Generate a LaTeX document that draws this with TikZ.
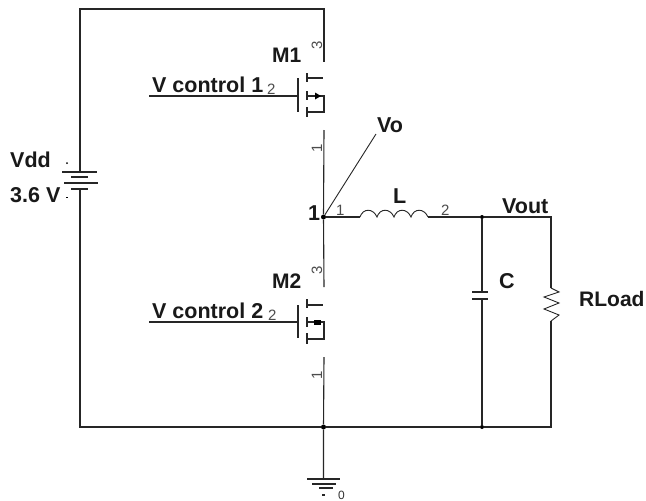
\documentclass[tikz,border=0pt]{standalone}
\usepackage{fontspec}
\setmainfont{Liberation Sans}
\begin{document}
\begin{tikzpicture}[x=1pt,y=-1pt,
  wire/.style={draw=black!85,line width=1.1pt},
  thin wire/.style={draw=black!85,line width=0.9pt},
  junction/.style={circle,fill=black,inner sep=0pt,minimum size=5pt},
  biglabel/.style={font=\fontsize{21.5}{23}\selectfont\bfseries,text=black!90,inner sep=0pt},
  sidelabel/.style={font=\fontsize{21}{23}\selectfont\bfseries,text=black!90,inner sep=0pt},
  pinlabel/.style={font=\fontsize{15}{16}\selectfont,text=black!70,inner sep=0pt},
  tinylabel/.style={font=\fontsize{12}{13}\selectfont,text=black!80,inner sep=0pt}]
\path[use as bounding box,fill=white] (0,0) rectangle (646,501);
% named points
\coordinate (tl) at (80,9);
\coordinate (tr) at (324,9);
\coordinate (batT) at (80,172);
\coordinate (batB) at (80,189);
\coordinate (bl) at (80,427);
\coordinate (br) at (551,427);
\node[junction] (n1) at (323.5,217) {};
\node[junction,minimum size=4pt] (nv) at (482,217) {};
\node[junction] (ng) at (323.5,427) {};
\node[junction,minimum size=4pt] (nc) at (482,427) {};
\coordinate (vr) at (551,217);
\coordinate (m1d) at (324,62);
\coordinate (m1s) at (324,130);
\coordinate (m2d) at (324,287);
\coordinate (m2s) at (324,357);
\coordinate (lA) at (360,217);
\coordinate (lB) at (428,217);
\coordinate (cT) at (482,292);
\coordinate (cB) at (482,299);
\coordinate (rT) at (551,288);
\coordinate (rB) at (551,321);
\coordinate (gnd) at (323.5,479);
\coordinate (vo) at (376,134);
\coordinate (g1) at (149,96);
\coordinate (g1e) at (298,96);
\coordinate (g2) at (149,322);
\coordinate (g2e) at (298,322);
% main wires
\draw[wire] (batT) -- (tl) -- (tr) -- (m1d);
\draw[wire] (batB) -- (bl) -- (ng) -- (nc) -- (br) -- (rB);
\draw[wire] (rT) -- (vr) -- (nv) -- (cT);
\draw[wire] (cB) -- (nc);
\draw[wire] (m1s) -- (n1) -- (m2d);
\draw[wire] (m2s) -- (ng) -- (gnd);
\draw[wire] (n1) -- (lA);
\draw[wire] (lB) -- (nv);
\draw[thin wire] (n1) -- (vo);
\draw[wire] (g1) -- (g1e);
\draw[wire] (g2) -- (g2e);
% battery
\draw[wire] (62,172) -- (97,172);
\draw[wire] (71,177) -- (88,177);
\draw[wire] (64,183) -- (98,183);
\draw[wire] (71,189) -- (88,189);
% MOSFET M1
\draw[wire] (298,78) -- (298,112);
\draw[wire] (307,73) -- (307,82);
\draw[wire] (307,91) -- (307,100);
\draw[wire] (307,107) -- (307,117);
\draw[wire] (307,78) -- (323,78);
\draw[wire] (307,96) -- (324,96) -- (324,112) -- (307,112);
\fill[black] (321,96) -- (315,92.5) -- (315,99.5) -- cycle;
% MOSFET M2
\draw[wire] (298,305) -- (298,338);
\draw[wire] (307,299) -- (307,308);
\draw[wire] (307,317) -- (307,327);
\draw[wire] (307,333) -- (307,344);
\draw[wire] (307,305) -- (323,305);
\draw[wire] (307,322) -- (324,322) -- (324,339) -- (307,339);
\fill[black] (314,319.5) rectangle (321,324.5);
% inductor
\draw[thin wire] (lA) .. controls +(3,-9) and +(-4,-9) .. ++(17,0)
  .. controls +(3,-9) and +(-4,-9) .. ++(17,0)
  .. controls +(3,-9) and +(-4,-9) .. ++(17,0)
  .. controls +(3,-9) and +(-4,-9) .. (lB);
% capacitor
\draw[wire] (472,292) -- (488,292);
\draw[wire] (472,299) -- (488,299);
% resistor
\draw[thin wire] (rT) -- (559,292) -- (544,297) -- (559,303) -- (544,309) -- (559,315) -- (rB);
% ground
\draw[wire] (307,479) -- (340,479);
\draw[wire] (312,484) -- (336,484);
\draw[wire] (319,488) -- (333,488);
\draw[wire] (322,495) -- (325,495);
% labels
\node[sidelabel,anchor=base west] (tm1) at (272,62) {M1};
\node[sidelabel,anchor=base west] (tm2) at (272,288) {M2};
\node[biglabel,anchor=base west] (tv1) at (152,92) {V control 1};
\node[biglabel,anchor=base west] (tv2) at (152,318) {V control 2};
\node[pinlabel,anchor=base west] (p12) at (267,94) {2};
\node[pinlabel,anchor=base west] (p22) at (268,320) {2};
\node[biglabel,anchor=base west] (tvdd) at (10,167) {Vdd};
\node[biglabel,anchor=base west] (t36) at (10,202) {3.6 V};
\node[biglabel,anchor=base west] (tvo) at (377,132) {Vo};
\node[biglabel,anchor=base west] (t1) at (308,220) {1};
\node[pinlabel,anchor=base west] (p1) at (336,215) {1};
\node[biglabel,anchor=base west] (tL) at (393,203) {L};
\node[pinlabel,anchor=base west] (p2) at (441,215) {2};
\node[biglabel,anchor=base west] (tvout) at (502,213) {Vout};
\node[biglabel,anchor=base west] (tc) at (499,288) {C};
\node[sidelabel,anchor=base west] (trl) at (579,306) {RLoad};
\node[pinlabel,rotate=90] (p3a) at (317,45) {3};
\node[pinlabel,rotate=90] (p1a) at (317,148) {1};
\node[pinlabel,rotate=90] (p3b) at (317,270) {3};
\node[pinlabel,rotate=90] (p1b) at (317,375) {1};
\node[tinylabel,anchor=base west] (p0) at (338,499.5) {0};
\fill[black] (67,163) circle (1pt);
\fill[black] (66,197) rectangle (68,198);
\end{tikzpicture}
\end{document}
